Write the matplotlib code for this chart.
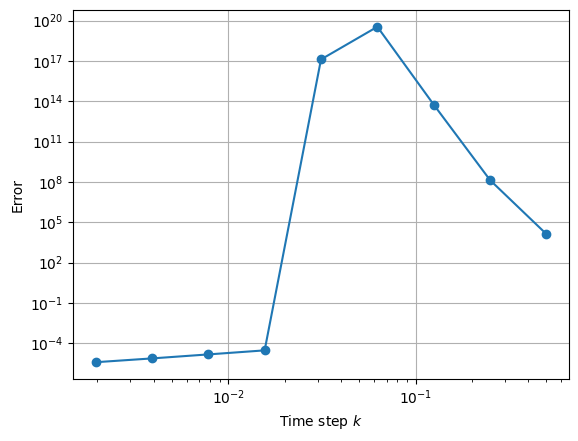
import matplotlib
matplotlib.use("Agg")
import matplotlib.pyplot as plt

# time steps k and measured error
k = [0.5, 0.25, 0.125, 0.0625, 0.03125, 0.015625, 0.0078125, 0.00390625, 0.001953125]
err = [1.3e4, 1.35e8, 5.6e13, 3.5e19, 1.3e17, 2.9e-5, 1.45e-5, 7.3e-6, 3.8e-6]

fig = plt.figure(figsize=(5.78, 4.41), dpi=100)
ax = fig.add_axes([73 / 578, 62 / 441, 496 / 578, 369 / 441])

ax.loglog(k, err, 'o-')
ax.grid(True)
ax.set_xlabel('Time step $k$')
ax.set_ylabel('Error')

fig.savefig("out.png", dpi=100)
